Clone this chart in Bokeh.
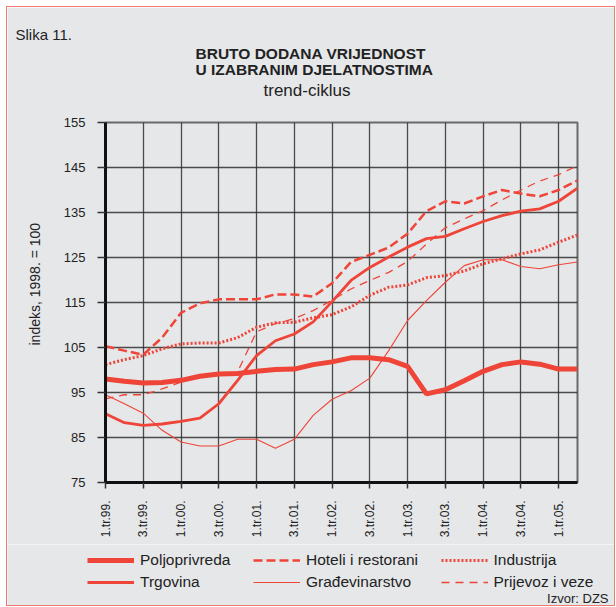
import math
from bokeh.plotting import figure
from bokeh.layouts import column
from bokeh.models import Range1d, FixedTicker, Legend, LegendItem, Title, Label
from bokeh.embed import file_html
from bokeh.resources import INLINE

# ---------------- data ----------------
quarters = list(range(26))  # 1.tr.99 ... 2.tr.05
tick_positions = list(range(0, 25, 2))
tick_labels = ["1.tr.99.", "3.tr.99.", "1.tr.00.", "3.tr.00.", "1.tr.01.", "3.tr.01.",
               "1.tr.02.", "3.tr.02.", "1.tr.03.", "3.tr.03.", "1.tr.04.", "3.tr.04.", "1.tr.05."]

poljoprivreda = [98.0, 97.5, 97.1, 97.2, 97.7, 98.6, 99.1, 99.2, 99.7, 100.1, 100.2, 101.2, 101.8,
                 102.7, 102.7, 102.3, 100.8, 94.7, 95.6, 97.6, 99.7, 101.2, 101.8, 101.3, 100.2, 100.2]
trgovina = [90.3, 88.3, 87.7, 88.0, 88.6, 89.3, 92.5, 97.7, 103.2, 106.5, 108.0, 110.7, 115.2,
            119.9, 122.8, 125.1, 127.3, 129.2, 129.7, 131.4, 133.0, 134.3, 135.3, 135.8, 137.5, 140.4]
hoteli = [105.3, 104.3, 103.4, 107.2, 112.7, 114.8, 115.7, 115.7, 115.7, 116.8, 116.8, 116.3, 119.3,
          124.0, 125.6, 127.2, 130.3, 135.3, 137.5, 137.0, 138.6, 140.0, 139.2, 138.6, 140.0, 142.1]
industrija = [101.2, 102.3, 103.2, 104.7, 105.8, 106.0, 106.0, 107.2, 109.5, 110.5, 110.6, 111.6, 112.3,
              114.0, 116.6, 118.4, 118.9, 120.5, 121.0, 122.0, 123.6, 124.7, 125.8, 126.7, 128.4, 130.0]
gradevinarstvo = [94.5, 92.5, 90.4, 86.6, 84.0, 83.1, 83.1, 84.6, 84.6, 82.6, 84.6, 89.9, 93.5,
                  95.4, 98.2, 104.3, 111.0, 115.4, 119.5, 123.2, 124.5, 124.5, 123.0, 122.5, 123.4, 124.0]
prijevoz = [93.6, 94.5, 94.5, 95.8, 97.3, 98.5, 98.8, 99.6, 108.5, 110.3, 111.4, 113.2, 115.5,
            118.0, 119.9, 121.7, 124.1, 128.0, 131.6, 133.6, 135.4, 137.8, 140.0, 142.0, 143.4, 145.4]

y_ticks = [75, 85, 95, 105, 115, 125, 135, 145, 155]

series = [
    # name, values, width, dash
    ("Poljoprivreda", poljoprivreda, 5, "solid"),
    ("Trgovina", trgovina, 2.8, "solid"),
    ("Hoteli i restorani", hoteli, 2.5, "9 4"),
    ("Građevinarstvo", gradevinarstvo, 1.1, "solid"),
    ("Industrija", industrija, 3, "2 2"),
    ("Prijevoz i veze", prijevoz, 1.3, "8 6"),
]
draw_order = ["Građevinarstvo", "Prijevoz i veze", "Industrija", "Hoteli i restorani", "Trgovina", "Poljoprivreda"]

# ---------------- layout ----------------
W = 607
H1 = 537           # main chart canvas
H2 = 61            # legend strip
FL, FT, FW, FH = 98, 115, 472, 360
RED = "#ef4438"
BG = "#e6e7e9"
TXT = "#222222"
FONT = "Liberation Sans"

p = figure(width=W, height=H1, output_backend="svg", toolbar_location=None,
           x_range=Range1d(0, 25), y_range=Range1d(75, 155),
           min_border_left=FL, min_border_top=FT,
           min_border_right=W - FL - FW, min_border_bottom=H1 - FT - FH)
p.background_fill_color = BG
p.border_fill_color = BG
p.outline_line_color = "#6a6a6a"
p.outline_line_width = 2

xt = FixedTicker(ticks=tick_positions)
p.xaxis.ticker = xt
p.xgrid.ticker = xt
p.xaxis.major_label_overrides = {t: l for t, l in zip(tick_positions, tick_labels)}
yt = FixedTicker(ticks=y_ticks)
p.yaxis.ticker = yt
p.ygrid.ticker = yt

for g in (p.xgrid, p.ygrid):
    g.grid_line_color = "#2f2f2f"
    g.grid_line_width = 1.3
    g.grid_line_alpha = 0.85

for ax in (p.xaxis, p.yaxis):
    ax.axis_line_color = "#111111"
    ax.axis_line_width = 3
    ax.major_tick_in = 0
    ax.major_tick_line_color = "#333333"
    ax.major_tick_line_width = 1.5
    ax.minor_tick_line_color = None
    ax.major_label_text_font = FONT
    ax.major_label_text_color = TXT

p.yaxis.major_tick_out = 8
p.yaxis.major_label_standoff = 12
p.yaxis.major_label_text_font_size = "13px"
p.xaxis.major_tick_out = 6
p.xaxis.major_label_standoff = 12
p.xaxis.major_label_text_font_size = "12px"
p.xaxis.major_label_orientation = math.pi / 2

styles = {s[0]: s for s in series}
for name in draw_order:
    _, vals, lw, dash = styles[name]
    p.line(quarters, vals, line_color=RED, line_width=lw, line_dash=dash)

# ---------------- titles (above, nearest frame first) ----------------
def title(text, size, bold=False, align="left", offset=0.0, standoff=0.0, **kw):
    return Title(text=text, align=align, offset=offset, standoff=standoff,
                 text_font=FONT, text_font_size=size, text_color=TXT,
                 text_font_style="bold" if bold else "normal",
                 vertical_align="bottom", **kw)

p.title.text = ""
p.add_layout(title(" ", "1px", standoff=20), "above")  # spacer
p.add_layout(title("trend-ciklus", "17px", offset=158), "above")
p.add_layout(title("BRUTO DODANA VRIJEDNOST\nU IZABRANIM DJELATNOSTIMA", "15.5px", bold=True,
                   offset=90, text_line_height=0.98), "above")
p.add_layout(title("Slika 11.", "15px", offset=-90), "above")

p.add_layout(Title(text="indeks, 1998. = 100", align="left", offset=137, vertical_align="middle",
                   standoff=34, text_font=FONT, text_font_size="14px",
                   text_font_style="normal", text_color=TXT), "left")

# ---------------- legend strip ----------------
p2 = figure(width=W, height=H2, output_backend="svg", toolbar_location=None,
            x_axis_location=None, y_axis_location=None, min_border=0)
has_fa = "frame_align" in p2.properties()
if has_fa:
    p.frame_align = False
    p2.frame_align = False
    X0, X1 = 0, W
else:
    X0, X1 = FL, FL + FW
p2.x_range = Range1d(X0, X1)
p2.y_range = Range1d(0, H2)
p2.background_fill_color = BG
p2.border_fill_color = BG
p2.outline_line_color = None
p2.grid.visible = False

# the series are re-drawn here only to feed the legend; they fall outside this strip's range
leg_r = {}
for name, vals, lw, dash in series:
    leg_r[name] = p2.line(quarters, vals, line_color=RED, line_width=lw, line_dash=dash)

def add_legend(names, page_x):
    lg = Legend(items=[LegendItem(label=n, renderers=[leg_r[n]]) for n in names],
                location=(page_x - 7 - X0, 13), orientation="vertical",
                background_fill_alpha=0, border_line_alpha=0, padding=0, margin=0,
                spacing=2, glyph_width=47, glyph_height=20, label_height=20,
                label_standoff=6, label_text_font_size="15.5px", label_text_font=FONT,
                label_text_color=TXT)
    p2.add_layout(lg)

add_legend(["Poljoprivreda", "Trgovina"], 87)
add_legend(["Hoteli i restorani", "Građevinarstvo"], 253)
add_legend(["Industrija", "Prijevoz i veze"], 440.5)

p2.add_layout(Label(x=601, y=7, text="Izvor: DZS", text_align="right", text_baseline="alphabetic",
                    text_font=FONT, text_font_size="13px", text_color=TXT))

layout = column(p, p2, spacing=0)
layout.styles = {"margin-left": "7px", "margin-top": "7px", "outline": "1px solid #f07a6e"}

open("out.html", "w").write(file_html(layout, INLINE))
